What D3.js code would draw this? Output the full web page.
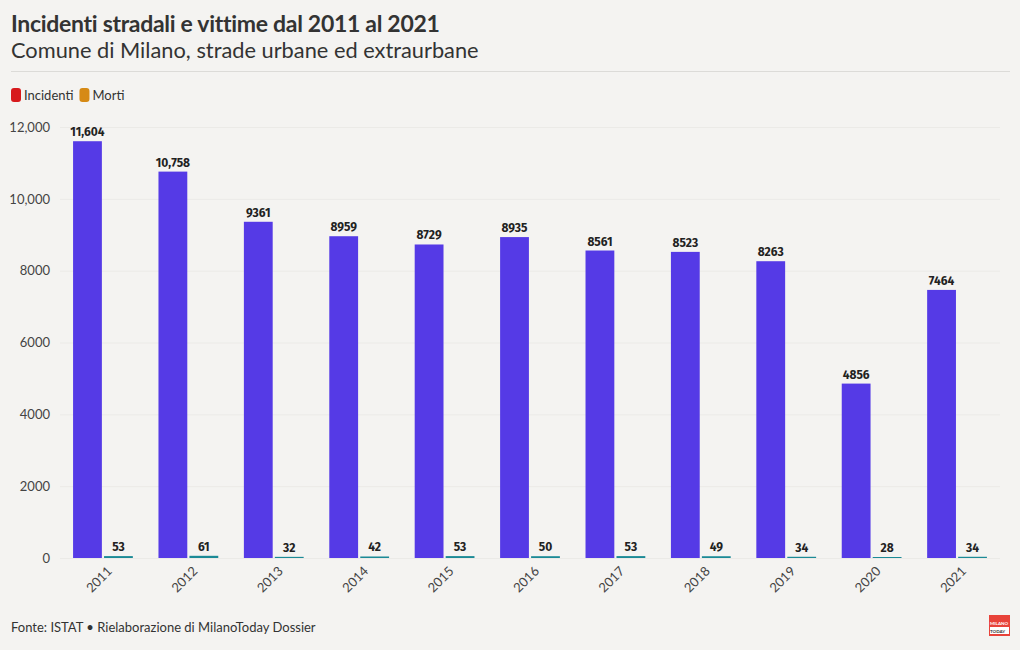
<!DOCTYPE html>
<html><head><meta charset="utf-8">
<script src="https://cdn.jsdelivr.net/npm/d3@7"></script>
<style>
body{margin:0;background:#f4f3f1;}
svg{display:block;font-family:"Source Sans Pro","Lato","Noto Sans",sans-serif;}
</style></head>
<body><svg id="c" width="1020" height="650"></svg>
<script>
const years = ["2011","2012","2013","2014","2015","2016","2017","2018","2019","2020","2021"];
const incidenti = [11604,10758,9361,8959,8729,8935,8561,8523,8263,4856,7464];
const morti = [53,61,32,42,53,50,53,49,34,28,34];
const yTicks = [0,2000,4000,6000,8000,10000,12000];
const seriesNames = ["Incidenti","Morti"];
const legendColors = ["#d7191c","#d68a15"];
const barColors = ["#553ae6","#1b8a96"];

const svg = d3.select("#c");
svg.append("rect").attr("width",1020).attr("height",650).attr("fill","#f4f3f1");

svg.append("text").attr("x",11).attr("y",32).attr("font-size",23).attr("font-weight",700)
  .attr("fill","#333").attr("letter-spacing","-0.3").text("Incidenti stradali e vittime dal 2011 al 2021");
svg.append("text").attr("x",11).attr("y",58).attr("font-size",21.8).attr("fill","#333")
  .text("Comune di Milano, strade urbane ed extraurbane");
svg.append("line").attr("x1",11).attr("x2",1010).attr("y1",71.5).attr("y2",71.5).attr("stroke","#dcdbd8");

// legend
let lx = 11;
seriesNames.forEach((n,i)=>{
  svg.append("rect").attr("x",lx).attr("y",88).attr("width",10).attr("height",14).attr("rx",3).attr("fill",legendColors[i]);
  const t = svg.append("text").attr("x",lx+13).attr("y",100).attr("font-size",13).attr("fill","#333").text(n);
  lx += 13 + t.node().getComputedTextLength() + 6;
});

const m = {left:60,right:1000,top:127,bottom:558};
const x0 = d3.scaleBand().domain(years).range([m.left,m.right]).paddingInner(0.3).paddingOuter(0.153);
const x1 = d3.scaleBand().domain([0,1]).range([0,x0.bandwidth()]).paddingInner(0.07);
const y = d3.scaleLinear().domain([0,12000]).range([m.bottom,m.top]);

const fmt = v => v>=10000 ? d3.format(",")(v) : String(v);

// grid
svg.append("g").selectAll("line").data(yTicks).join("line")
  .attr("x1",m.left).attr("x2",1000).attr("y1",d=>y(d)+0.5).attr("y2",d=>y(d)+0.5)
  .attr("stroke","#ebeae7").attr("stroke-width",1);

// y axis
const ya = svg.append("g").attr("transform",`translate(${m.left},0)`)
  .call(d3.axisLeft(y).tickValues(yTicks).tickSize(0).tickPadding(10).tickFormat(fmt));
ya.select(".domain").remove();
ya.selectAll("text").attr("font-size",13).attr("fill","#444").attr("font-family","'Source Sans Pro','Lato','Noto Sans',sans-serif");

// bars
const g = svg.append("g");
years.forEach((yr,i)=>{
  const vals = [incidenti[i], morti[i]];
  vals.forEach((v,j)=>{
    const bx = x0(yr)+x1(j);
    g.append("rect").attr("x",bx).attr("width",x1.bandwidth())
      .attr("y",y(v)).attr("height",y(0)-y(v)).attr("fill",barColors[j]);
    g.append("text").attr("x",bx+x1.bandwidth()/2).attr("y",y(v)-5)
      .attr("text-anchor","middle").attr("font-size",12).attr("font-weight",700)
      .attr("font-family","'Fira Sans','DejaVu Sans Condensed','Roboto',sans-serif")
      .attr("fill","#222").text(fmt(v));
  });
});

// x axis
const xa = svg.append("g").attr("transform",`translate(0,${m.bottom})`)
  .call(d3.axisBottom(x0).tickSize(0).tickPadding(0));
xa.select(".domain").remove();
xa.selectAll("text").attr("font-size",13).attr("fill","#444")
  .attr("font-family","'Source Sans Pro','Lato','Noto Sans',sans-serif")
  .attr("text-anchor","end").attr("dy",0)
  .attr("transform","translate(10,14) rotate(-45)");

// footer
svg.append("text").attr("x",11).attr("y",632).attr("font-size",13).attr("fill","#333")
  .text("Fonte: ISTAT \u2022 Rielaborazione di MilanoToday Dossier");
// logo
svg.append("rect").attr("x",989).attr("y",615).attr("width",21).attr("height",21).attr("fill","#e8433a");
svg.append("rect").attr("x",990).attr("y",627).attr("width",19).attr("height",7).attr("fill","#fff");
svg.append("text").attr("x",990).attr("y",625).attr("font-size",4.5).attr("font-weight",700).attr("fill","#fff").text("MILANO");
svg.append("text").attr("x",990).attr("y",633).attr("font-size",4.5).attr("font-weight",700).attr("fill","#333").text("TODAY");
</script></body></html>
